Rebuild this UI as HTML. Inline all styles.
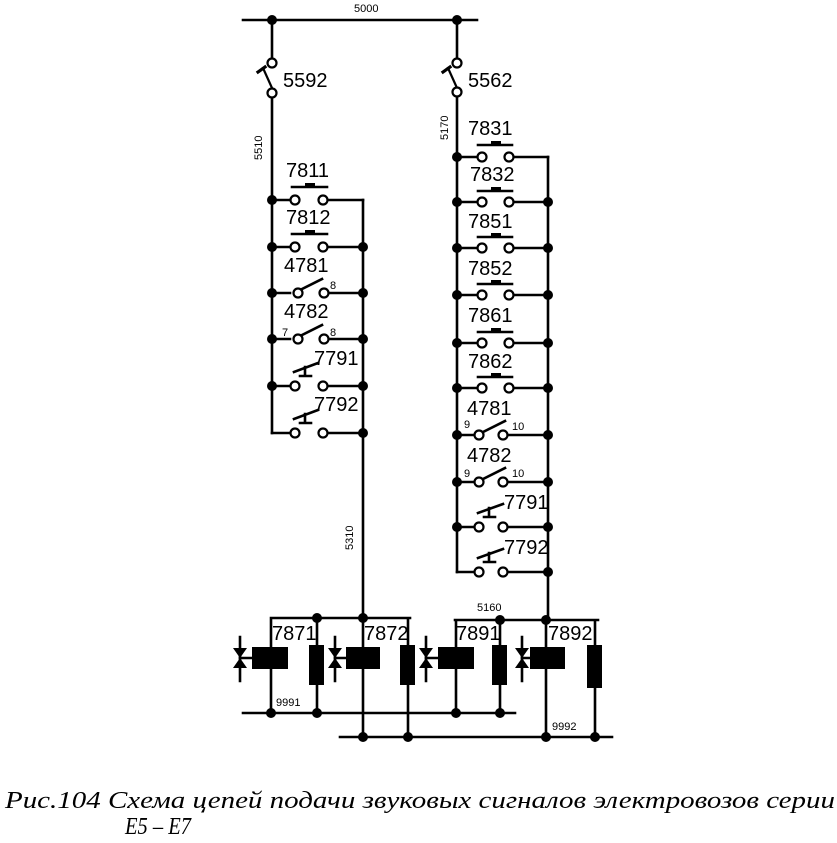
<!DOCTYPE html>
<html><head><meta charset="utf-8"><style>
html,body{margin:0;padding:0;background:#fff;width:837px;height:843px;overflow:hidden}
svg{display:block}
.l{font-family:"Liberation Sans",sans-serif;font-size:20px;fill:#000}
.s{font-family:"Liberation Sans",sans-serif;font-size:11px;fill:#000}
.cap{font-family:"Liberation Serif",serif;font-style:italic;font-size:24px;fill:#000}
</style></head><body>
<svg width="837" height="843" viewBox="0 0 837 843" xmlns="http://www.w3.org/2000/svg">
<g stroke="#000" stroke-width="2.6" fill="none" stroke-linecap="square">
<line x1="243" y1="20" x2="477" y2="20"/>
<line x1="272" y1="20" x2="272" y2="59"/>
<line x1="457" y1="20" x2="457" y2="59"/>
<line x1="263" y1="68" x2="272" y2="88" stroke-width="2.2"/>
<line x1="258" y1="72" x2="265" y2="67" stroke-width="3.2"/>
<line x1="272" y1="97" x2="272" y2="200"/>
<line x1="448" y1="68" x2="457" y2="88" stroke-width="2.2"/>
<line x1="443" y1="72" x2="450" y2="67" stroke-width="3.2"/>
<line x1="457" y1="96" x2="457" y2="572"/>

<line x1="272" y1="200" x2="272" y2="433"/>
<line x1="363" y1="200" x2="363" y2="618"/>
<path d="M272 200H290 M328 200H363 M272 247H290 M328 247H363 M272 293H290 M328 293H363 M272 339H290 M328 339H363 M272 386H290 M328 386H363 M272 433H290 M328 433H363"/>
<line x1="292" y1="187" x2="327" y2="187"/>
<line x1="292" y1="234" x2="327" y2="234"/>
<line x1="298" y1="291" x2="322" y2="279"/>
<line x1="298" y1="337" x2="322" y2="325"/>
<path d="M294 372L318 363 M305 367V376 M300 376H311"/>
<path d="M294 419L318 410 M305 414V423 M300 423H311"/>

<line x1="548" y1="157" x2="548" y2="620"/>
<path d="M457 157H477 M514 157H548 M457 202H477 M514 202H548 M457 248H477 M514 248H548 M457 295H477 M514 295H548 M457 343H477 M514 343H548 M457 388H477 M514 388H548 M457 435H474 M508 435H548 M457 482H474 M508 482H548 M457 527H474 M508 527H548 M457 572H474 M508 572H548"/>
<line x1="478" y1="145" x2="512" y2="145"/>
<line x1="478" y1="191" x2="512" y2="191"/>
<line x1="478" y1="237" x2="512" y2="237"/>
<line x1="478" y1="284" x2="512" y2="284"/>
<line x1="478" y1="332" x2="512" y2="332"/>
<line x1="478" y1="377" x2="512" y2="377"/>
<line x1="481" y1="433" x2="505" y2="421"/>
<line x1="481" y1="480" x2="505" y2="468"/>
<path d="M478 513L503 504 M489 508V517 M484 517H495"/>
<path d="M478 558L503 549 M489 553V562 M484 562H495"/>

<path d="M271 618H410 M271 618V713 M317 618V713 M363 618V737 M408 618V737"/>
<path d="M455 620H598 M456 620V713 M500 620V713 M546 620V737 M595 620V737"/>
<line x1="243" y1="713" x2="515" y2="713"/>
<line x1="340" y1="737" x2="612" y2="737"/>
<path d="M240 637V681 M335 637V681 M426 637V681 M522 637V681"/>
<path d="M240 658H252 M335 658H347 M426 658H438 M522 658H530"/>
</g>
<g fill="#000">
<path d="M233 648H247L240 658Z M233 668H247L240 658Z"/>
<path d="M328 648H342L335 658Z M328 668H342L335 658Z"/>
<path d="M419 648H433L426 658Z M419 668H433L426 658Z"/>
<path d="M515 648H529L522 658Z M515 668H529L522 658Z"/>
<rect x="252" y="647" width="36" height="22"/>
<rect x="346" y="647" width="34" height="22"/>
<rect x="438" y="647" width="36" height="22"/>
<rect x="530" y="647" width="35" height="22"/>
<rect x="309" y="645" width="15" height="40"/>
<rect x="400" y="645" width="15" height="40"/>
<rect x="492" y="645" width="15" height="40"/>
<rect x="587" y="645" width="15" height="43"/>
<rect x="305" y="183" width="10" height="4"/><rect x="305" y="230" width="10" height="4"/>
<rect x="491" y="141" width="10" height="4"/><rect x="491" y="187" width="10" height="4"/>
<rect x="491" y="233" width="10" height="4"/><rect x="491" y="280" width="10" height="4"/>
<rect x="491" y="328" width="10" height="4"/><rect x="491" y="373" width="10" height="4"/>
<circle cx="272" cy="20" r="5"/><circle cx="457" cy="20" r="5"/>
<circle cx="272" cy="200" r="5"/><circle cx="272" cy="247" r="5"/><circle cx="272" cy="293" r="5"/><circle cx="272" cy="339" r="5"/><circle cx="272" cy="386" r="5"/>
<circle cx="363" cy="247" r="5"/><circle cx="363" cy="293" r="5"/><circle cx="363" cy="339" r="5"/><circle cx="363" cy="386" r="5"/><circle cx="363" cy="433" r="5"/>
<circle cx="457" cy="157" r="5"/><circle cx="457" cy="202" r="5"/><circle cx="457" cy="248" r="5"/><circle cx="457" cy="295" r="5"/><circle cx="457" cy="343" r="5"/><circle cx="457" cy="388" r="5"/><circle cx="457" cy="435" r="5"/><circle cx="457" cy="482" r="5"/><circle cx="457" cy="527" r="5"/>
<circle cx="548" cy="202" r="5"/><circle cx="548" cy="248" r="5"/><circle cx="548" cy="295" r="5"/><circle cx="548" cy="343" r="5"/><circle cx="548" cy="388" r="5"/><circle cx="548" cy="435" r="5"/><circle cx="548" cy="482" r="5"/><circle cx="548" cy="527" r="5"/><circle cx="548" cy="572" r="5"/>
<circle cx="317" cy="618" r="5"/><circle cx="363" cy="618" r="5"/><circle cx="500" cy="620" r="5"/><circle cx="546" cy="620" r="5"/>
<circle cx="271" cy="713" r="5"/><circle cx="317" cy="713" r="5"/><circle cx="456" cy="713" r="5"/><circle cx="500" cy="713" r="5"/>
<circle cx="363" cy="737" r="5"/><circle cx="408" cy="737" r="5"/><circle cx="546" cy="737" r="5"/><circle cx="595" cy="737" r="5"/>
</g>
<g fill="#fff" stroke="#000" stroke-width="2.2">
<circle cx="272" cy="63" r="4.5"/><circle cx="272" cy="93" r="4.5"/>
<circle cx="457" cy="63" r="4.5"/><circle cx="457" cy="92" r="4.5"/>
<circle cx="295" cy="200" r="4.5"/><circle cx="323" cy="200" r="4.5"/>
<circle cx="295" cy="247" r="4.5"/><circle cx="323" cy="247" r="4.5"/>
<circle cx="298" cy="293" r="4.5"/><circle cx="324" cy="293" r="4.5"/>
<circle cx="298" cy="339" r="4.5"/><circle cx="324" cy="339" r="4.5"/>
<circle cx="295" cy="386" r="4.5"/><circle cx="323" cy="386" r="4.5"/>
<circle cx="295" cy="433" r="4.5"/><circle cx="323" cy="433" r="4.5"/>
<circle cx="482" cy="157" r="4.5"/><circle cx="509" cy="157" r="4.5"/>
<circle cx="482" cy="202" r="4.5"/><circle cx="509" cy="202" r="4.5"/>
<circle cx="482" cy="248" r="4.5"/><circle cx="509" cy="248" r="4.5"/>
<circle cx="482" cy="295" r="4.5"/><circle cx="509" cy="295" r="4.5"/>
<circle cx="482" cy="343" r="4.5"/><circle cx="509" cy="343" r="4.5"/>
<circle cx="482" cy="388" r="4.5"/><circle cx="509" cy="388" r="4.5"/>
<circle cx="479" cy="435" r="4.5"/><circle cx="503" cy="435" r="4.5"/>
<circle cx="479" cy="482" r="4.5"/><circle cx="503" cy="482" r="4.5"/>
<circle cx="479" cy="527" r="4.5"/><circle cx="503" cy="527" r="4.5"/>
<circle cx="479" cy="572" r="4.5"/><circle cx="503" cy="572" r="4.5"/>
</g>
<text class="s" x="354" y="12" font-size="12">5000</text>
<text class="l" x="283" y="87">5592</text>
<text class="l" x="468" y="87">5562</text>
<text class="s" x="262" y="160" transform="rotate(-90 262 160)">5510</text>
<text class="s" x="448" y="140" transform="rotate(-90 448 140)">5170</text>
<text class="s" x="353" y="550" transform="rotate(-90 353 550)" font-size="13">5310</text>
<text class="s" x="477" y="611" font-size="12">5160</text>
<text class="l" x="286" y="177">7811</text>
<text class="l" x="286" y="224">7812</text>
<text class="l" x="284" y="272">4781</text>
<text class="l" x="284" y="318">4782</text>
<text class="s" x="330" y="289" font-size="13">8</text>
<text class="s" x="282" y="336" font-size="13">7</text>
<text class="s" x="330" y="336" font-size="13">8</text>
<text class="l" x="314" y="365">7791</text>
<text class="l" x="314" y="411">7792</text>
<text class="l" x="468" y="135">7831</text>
<text class="l" x="470" y="181">7832</text>
<text class="l" x="468" y="228">7851</text>
<text class="l" x="468" y="275">7852</text>
<text class="l" x="468" y="322">7861</text>
<text class="l" x="468" y="368">7862</text>
<text class="l" x="467" y="415">4781</text>
<text class="l" x="467" y="462">4782</text>
<text class="s" x="464" y="428" font-size="13">9</text>
<text class="s" x="512" y="430" font-size="13">10</text>
<text class="s" x="464" y="477" font-size="13">9</text>
<text class="s" x="512" y="477" font-size="13">10</text>
<text class="l" x="504" y="509">7791</text>
<text class="l" x="504" y="554">7792</text>
<text class="l" x="272" y="640" font-size="18">7871</text>
<text class="l" x="364" y="640" font-size="18">7872</text>
<text class="l" x="456" y="640" font-size="18">7891</text>
<text class="l" x="548" y="640" font-size="18">7892</text>
<text class="s" x="276" y="706" font-size="12">9991</text>
<text class="s" x="552" y="730" font-size="12">9992</text>
<text class="cap" x="5" y="808" textLength="830" lengthAdjust="spacingAndGlyphs">Рис.104 Схема цепей подачи звуковых сигналов электровозов серии</text>
<text class="cap" x="125" y="834" textLength="66" lengthAdjust="spacingAndGlyphs">Е5 – Е7</text>
</svg>
</body></html>
